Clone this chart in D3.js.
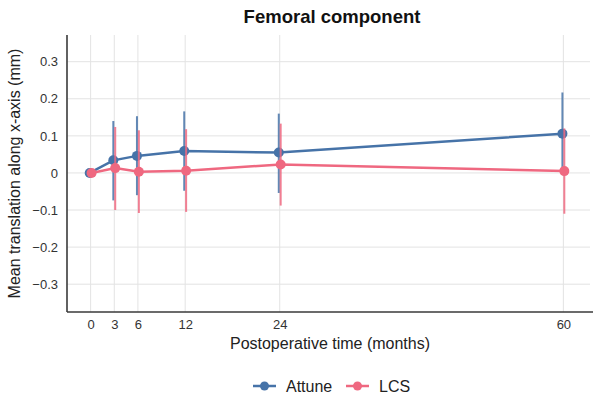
<!DOCTYPE html>
<html>
<head>
<meta charset="utf-8">
<script src="https://cdn.jsdelivr.net/npm/d3@7"></script>
<style>
  body { margin: 0; background: #fff; }
  text { font-family: "Liberation Sans", Arial, sans-serif; }
</style>
</head>
<body>
<script>
// Daten
var months = [0, 3, 6, 12, 24, 60];
var attuneMean = [0, 0.034, 0.046, 0.059, 0.055, 0.106];
var attuneLow  = [0, -0.074, -0.060, -0.048, -0.054, -0.005];
var attuneHigh = [0, 0.140, 0.153, 0.166, 0.160, 0.217];
var lcsMean = [0, 0.013, 0.003, 0.006, 0.023, 0.005];
var lcsLow  = [0, -0.100, -0.108, -0.105, -0.088, -0.110];
var lcsHigh = [0, 0.124, 0.115, 0.118, 0.133, 0.120];
var yTicks = [-0.3, -0.2, -0.1, 0, 0.1, 0.2, 0.3];
var seriesNames = ["Attune", "LCS"];
var colors = ["#4673a8", "#ef6880"];

var width = 593, height = 401;
var margin = {top: 35, right: 3, bottom: 89, left: 67};

var svg = d3.select("body").append("svg")
  .attr("width", width)
  .attr("height", height);

var x = d3.scaleLinear().domain([-3, 63]).range([margin.left, width - margin.right - 3]);
var y = d3.scaleLinear().domain([-0.375, 0.372]).range([height - margin.bottom, margin.top]);

// Gitter
svg.append("g").selectAll("line").data(yTicks).enter().append("line")
  .attr("x1", margin.left).attr("x2", width - margin.right)
  .attr("y1", d => y(d)).attr("y2", d => y(d))
  .attr("stroke", "#e3e3e3").attr("stroke-width", 1);

svg.append("g").selectAll("line").data(months).enter().append("line")
  .attr("x1", d => x(d)).attr("x2", d => x(d))
  .attr("y1", margin.top).attr("y2", height - margin.bottom)
  .attr("stroke", "#e3e3e3").attr("stroke-width", 1);

// Achsen
var xAxis = svg.append("g")
  .attr("transform", "translate(0," + (height - margin.bottom) + ")")
  .call(d3.axisBottom(x).tickValues(months).tickSize(0).tickPadding(8));
xAxis.select(".domain").attr("d", "M" + margin.left + ",0H" + width)
  .attr("stroke", "#3a3a3a").attr("stroke-width", 1.6);
xAxis.selectAll("text").attr("font-size", 13).attr("fill", "#333");

var yAxis = svg.append("g")
  .attr("transform", "translate(" + margin.left + ",0)")
  .call(d3.axisLeft(y).tickValues(yTicks).tickSize(0).tickPadding(9)
    .tickFormat(d => d === 0 ? "0" : d3.format(".1f")(d)));
yAxis.select(".domain").attr("d", "M0," + margin.top + "V" + (height - margin.bottom))
  .attr("stroke", "#3a3a3a").attr("stroke-width", 1.6);
yAxis.selectAll("text").attr("font-size", 13).attr("fill", "#333");

// Serien
var series = [
  {name: seriesNames[0], mean: attuneMean, low: attuneLow, high: attuneHigh, color: colors[0], dodge: -0.12},
  {name: seriesNames[1], mean: lcsMean, low: lcsLow, high: lcsHigh, color: colors[1], dodge: 0.12}
];

var line = d3.line()
  .x(d => x(d.m + d.dodge))
  .y(d => y(d.v));

series.forEach(function (s) {
  var pts = months.map((m, i) => ({m: m, v: s.mean[i], lo: s.low[i], hi: s.high[i], dodge: s.dodge}));
  var g = svg.append("g");
  g.selectAll(".err").data(pts.filter(d => d.hi !== d.lo)).enter().append("line")
    .attr("x1", d => x(d.m + d.dodge)).attr("x2", d => x(d.m + d.dodge))
    .attr("y1", d => y(d.lo)).attr("y2", d => y(d.hi))
    .attr("stroke", s.color).attr("stroke-width", 2).attr("stroke-opacity", 0.85);
  g.append("path").datum(pts)
    .attr("d", line)
    .attr("fill", "none").attr("stroke", s.color).attr("stroke-width", 2.5);
  g.selectAll(".dot").data(pts).enter().append("circle")
    .attr("cx", d => x(d.m + d.dodge)).attr("cy", d => y(d.v))
    .attr("r", 5).attr("fill", s.color);
});

// Titel
svg.append("text").attr("x", 332).attr("y", 23)
  .attr("text-anchor", "middle").attr("font-size", 18.5).attr("font-weight", "bold")
  .attr("fill", "#111").text("Femoral component");

svg.append("text").attr("x", 330).attr("y", 349)
  .attr("text-anchor", "middle").attr("font-size", 16).attr("fill", "#222")
  .text("Postoperative time (months)");

svg.append("text")
  .attr("transform", "translate(20," + ((margin.top + height - margin.bottom) / 2) + ") rotate(-90)")
  .attr("text-anchor", "middle").attr("font-size", 16).attr("fill", "#222")
  .text("Mean translation along x-axis (mm)");

// Legende
var legX = [253, 346];
var leg = svg.append("g").selectAll("g").data(series).enter().append("g")
  .attr("transform", (d, i) => "translate(" + legX[i] + ",386)");
leg.append("line").attr("x1", 0).attr("x2", 23)
  .attr("stroke", d => d.color).attr("stroke-width", 2.5);
leg.append("circle").attr("cx", 11.5).attr("r", 4.5).attr("fill", d => d.color);
leg.append("text").attr("x", 33).attr("y", 6)
  .attr("font-size", 16).attr("fill", "#222").text(d => d.name);
</script>
</body>
</html>
